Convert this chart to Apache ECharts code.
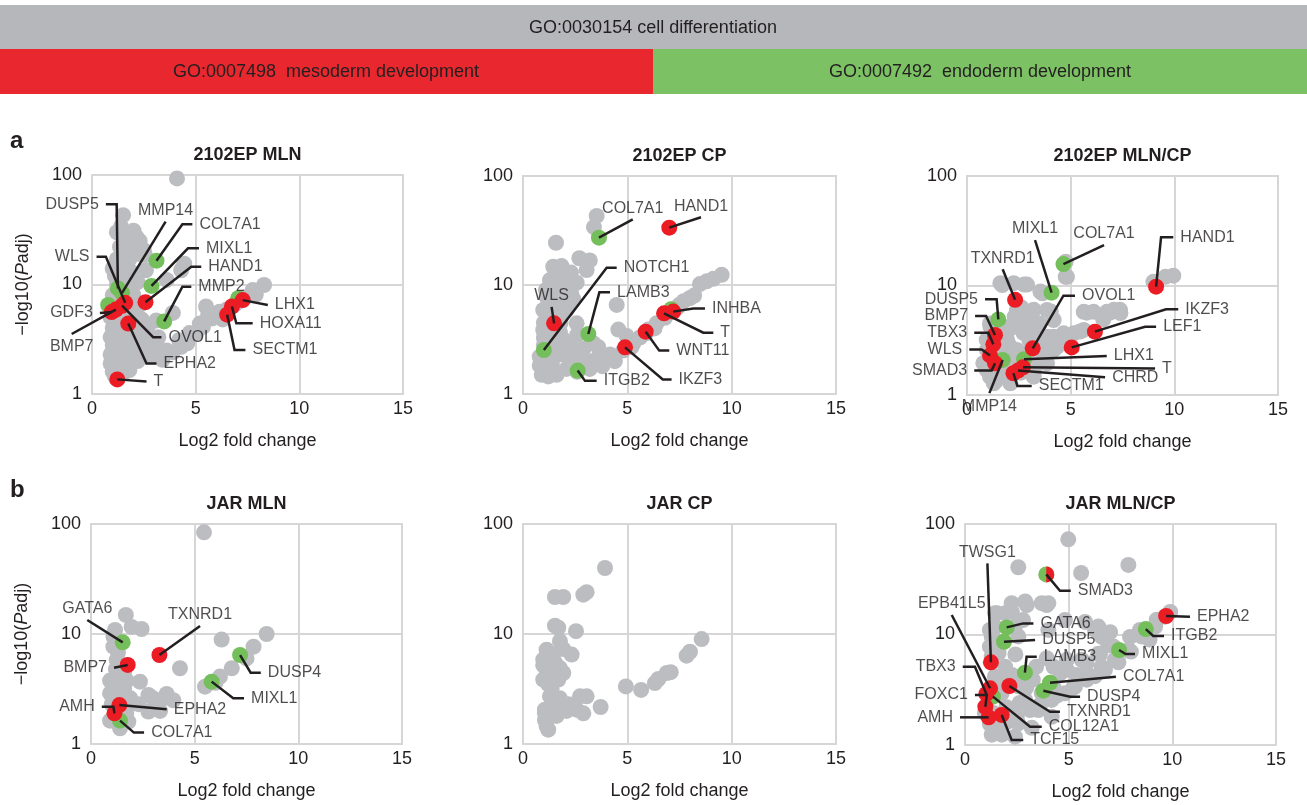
<!DOCTYPE html>
<html>
<head>
<meta charset="utf-8">
<script src="https://cdn.jsdelivr.net/npm/echarts@6/dist/echarts.min.js"></script>
<style>
html, body { margin: 0; padding: 0; background: #ffffff; }
#chart { width: 1307px; height: 805px; }
</style>
</head>
<body>
<div id="chart"></div>
<script>
// ---- Data: [log2 fold change, -log10(Padj)] ----
const gray2102MLN = [[4.1,93],[1.5,43],[1.2,30],[1.4,34],[2.0,31],[2.15,27],[2.3,25],[1.35,22],[2.0,21],[2.55,18.6],[2.3,19],[1.5,15.6],[1.8,17],[2.5,20.6],[2.6,13.5],[4.3,13.5],[4.45,15.5],[3.6,11],[1.1,12],[1.2,10],[2.2,10.5],[1.0,8],[1.8,11],[2.0,8],[2.3,6.5],[1.0,6.8],[0.9,5],[1.2,4.5],[1.5,5],[2.0,5.3],[1.0,4],[1.4,3.8],[0.9,3.3],[1.3,3.2],[1.7,3.5],[2.1,3.6],[1.0,2.8],[1.4,2.7],[1.8,2.8],[2.4,3],[0.9,2.3],[1.3,2.2],[1.7,2.3],[2.2,2.4],[0.9,1.9],[1.3,1.8],[1.7,1.9],[1.0,1.6],[1.5,1.55],[1.1,1.45],[2.8,2.9],[2.95,2.2],[3.4,2.05],[3.6,2.5],[4.3,2.7],[3.1,4.7],[3.9,5.5],[3.2,3.3],[4.7,3.6],[5.03,3.6],[5.35,4.1],[5.2,4.4],[5.5,6.3],[5.8,4.9],[6.15,5.65],[6.5,5.9],[6.9,6.6],[7.44,7.7],[7.75,8.9],[7.9,8.1],[8.3,9.9],[6.3,4.8],[4.2,3.1],[2.7,4.2],[1.1,5.5],[1.6,4.2],[1.9,4.5],[1.1,3.6],[1.5,3.0],[2.0,3.1],[1.2,2.5],[1.6,2.1],[2.0,2.0],[1.2,2.0],[1.4,1.6],[1.8,1.65],[2.5,2.6],[2.6,3.6],[1.3,12.5],[1.6,12],[1.7,26],[1.0,14],[1.9,13],[1.2,17],[1.7,21],[2.4,4.8],[1.3,7.5],[1.7,8.6],[2.2,2.0],[2.6,2.2],[3.1,2.6],[3.9,2.4],[4.6,2.9],[7.1,7.0],[5.6,5.2]];
const gray2102CP = [[3.53,43],[3.4,34],[1.58,24.4],[2.7,17.6],[3.2,16.8],[1.45,14.7],[1.85,14.9],[3.05,13.7],[1.29,11.1],[2.09,10.8],[2.57,10.5],[1.13,7.8],[1.93,7.6],[0.97,5.9],[2.09,5.9],[2.57,4.45],[0.97,3.87],[1.77,3.7],[2.25,2.92],[0.8,2.2],[1.29,2.0],[0.8,1.83],[1.13,1.58],[1.61,1.5],[2.09,1.7],[1.21,1.45],[3.37,2.92],[4.49,6.56],[4.57,3.9],[2.73,2.0],[3.53,2.1],[4.17,2.3],[5.28,2.9],[5.6,3.3],[6.4,4.45],[7.2,6.0],[7.7,7.1],[8.0,7.6],[8.48,10.2],[8.8,10.8],[9.12,11.4],[9.52,12.4],[2.41,1.95],[3.05,2.0],[4.97,3.4],[1.0,3.3],[1.3,3.0],[1.6,2.6],[1.0,2.8],[1.5,2.2],[1.9,2.3],[2.2,2.2],[1.2,4.8],[1.6,5.3],[1.8,4.5],[1.2,6.5],[1.6,6.8],[1.4,9],[1.7,9.5],[2.3,8.5],[2.1,12],[1.7,12.5],[6.0,3.9],[7.5,6.6],[1.0,4.5],[1.3,5.2],[1.8,6],[2.2,6.5],[2.4,7.5],[1.1,9],[1.9,10],[2.3,13],[1.4,3.5],[1.9,3.2],[2.6,3.5],[2.9,2.6],[1.1,2.3],[0.9,1.5],[1.4,1.8],[2.6,1.6],[3.2,1.7],[3.8,1.8],[4.4,2.0],[4.8,2.5],[5.2,2.7],[5.9,3.6],[6.3,4.0],[6.8,5.0],[7.4,6.2],[8.2,8.0],[2.5,2.5],[3.6,2.7],[0.9,2.0]];
const gray2102Ratio = [[9.95,12.3],[8.99,10.8],[9.57,12],[4.76,16.5],[4.76,12],[4.82,12],[1.61,10.5],[2.25,10.5],[2.89,10.2],[3.54,8.8],[1.7,10.1],[2.76,10.2],[3.64,8.5],[4.04,5.8],[3.16,5.9],[2.62,6.3],[2.3,5.2],[1.99,3.9],[2.72,3.7],[3.52,3.5],[2.41,5.97],[2.89,5.2],[3.22,6.0],[3.86,5.97],[4.18,4.84],[2.25,4.2],[3.22,3.93],[3.86,3.41],[1.93,3.18],[2.41,2.58],[3.7,2.58],[4.18,2.58],[3.86,1.95],[3.22,1.47],[1.77,2.24],[1.61,1.47],[1.29,1.28],[2.09,1.28],[1.13,4.2],[0.96,2.58],[4.18,3.41],[4.66,3.66],[5.15,3.66],[5.63,3.93],[5.63,5.75],[6.11,5.75],[6.75,5.75],[7.08,6.0],[7.4,5.6],[4.82,2.97],[4.34,2.76],[5.78,5.65],[6.9,5.65],[7.38,6.0],[6.57,4.9],[5.45,3.8],[4.65,3.55],[4.17,3.15],[4.0,2.58],[3.68,2.12],[3.36,1.9],[2.88,1.78],[1.11,1.47],[0.79,1.95],[0.95,1.7],[1.59,1.7],[1.91,1.95],[0.95,3.2],[1.59,3.0],[2.07,2.8],[1.11,4.5],[1.4,1.35],[2.1,1.45],[1.3,2.5],[1.8,2.4],[2.4,2.3],[3.0,2.5],[2.2,4.4],[2.6,1.6],[3.0,3.2],[1.5,3.6],[2.7,4.7],[3.5,4.5]];
const grayJARMLN = [[5.45,84],[1.68,14.9],[2.44,11.1],[1.16,10.9],[1.96,11.6],[6.3,8.9],[8.47,10],[7.84,7.67],[6.79,4.88],[6.22,4.1],[5.5,3.32],[4.29,4.88],[2.36,3.69],[1.08,7.67],[1.24,5.8],[0.92,3.77],[1.72,3.77],[0.92,2.89],[1.56,2.75],[2.04,2.34],[2.77,2.79],[3.65,2.85],[3.97,2.5],[3.33,2.45],[2.77,1.97],[3.33,2.0],[0.92,1.63],[1.8,1.6],[1.4,1.39],[1.4,4.2],[1.08,9.5],[1.2,4.8],[1.6,3.2],[1.1,3.3],[1.9,2.6],[1.0,2.3],[1.7,1.9],[7.5,6.0],[6.0,3.6],[1.3,6.8],[1.6,4.5],[1.2,2.6],[2.3,2.3],[3.0,2.6]];
const grayJARCP = [[3.93,39.8],[1.53,21.7],[1.93,21.7],[2.89,22.8],[3.05,24],[1.53,11.9],[1.69,11.4],[2.54,10.6],[1.77,8.6],[1.13,7.2],[1.93,7.3],[2.33,6.5],[0.97,5.84],[1.53,5.5],[1.93,4.42],[0.97,5.2],[1.13,4.18],[1.69,3.85],[1.29,2.71],[1.77,2.6],[1.05,2.05],[1.05,1.9],[1.13,1.45],[1.21,1.35],[1.61,2.05],[2.09,2.0],[2.17,2.3],[2.57,2.05],[2.89,1.9],[3.05,2.71],[2.73,2.71],[3.72,2.17],[4.93,3.34],[5.66,3.1],[6.32,3.58],[6.49,3.9],[6.89,4.42],[7.08,4.5],[7.84,6.35],[8.0,6.9],[8.56,9.0],[1.45,4.18],[0.97,3.85],[1.45,2.3],[1.61,1.8],[1.37,3.2],[1.45,6.5],[1.77,4.9],[1.2,3.5],[1.05,1.65]];
const grayJARRatio = [[4.98,72.6],[2.57,40.6],[5.6,36],[7.88,42.6],[2.98,18.5],[3.94,18.5],[1.45,15.6],[2.26,16],[2.8,13.5],[6.27,11],[1.2,11],[1.2,7.76],[1.45,9],[9.9,16],[9.25,13.6],[8.44,11.0],[7.96,9.5],[7.16,7.8],[6.51,6.6],[5.87,5.5],[4.91,4.8],[4.59,4.45],[4.27,3.3],[3.14,2.07],[2.5,1.8],[2.0,1.6],[1.54,1.5],[3.62,2.3],[4.43,2.8],[5.23,3.3],[5.87,3.9],[6.27,4.2],[6.75,4.8],[7.4,5.6],[1.62,6.8],[1.94,5.1],[2.43,6.6],[2.27,4.3],[1.78,3.8],[1.45,4.2],[2.95,3.3],[3.27,3.9],[3.43,5.1],[4.27,5.1],[3.94,6.1],[4.91,5.9],[1.37,1.95],[1.2,1.55],[2.0,2.2],[2.64,2.4],[8.0,7.0],[8.9,9.0],[5.4,4.3],[1.53,15.6],[1.45,11.8],[1.29,9.6],[1.29,6.3],[1.45,4.1],[1.77,2.94],[2.09,2.07],[2.57,1.57],[3.22,1.43],[2.41,1.19],[2.25,19.2],[1.93,15.6],[2.41,11.8],[2.57,9.6],[3.22,3.9],[3.7,2.94],[4.18,2.56],[4.82,2.94],[5.3,3.37],[5.95,4.15],[6.59,5.1],[7.23,5.9],[7.88,7.2],[8.52,9.6],[9.17,11.8],[9.65,14.5],[4.82,4.8],[5.63,5.9],[6.43,6.7],[6.91,8.0],[4.02,11],[4.82,13.5],[5.79,13],[6.43,11.8],[3.7,19.2],[2.9,19.9],[4.02,19.2],[6.6,9.5],[7.0,10.5],[0.96,1.94],[1.29,1.24],[1.77,1.24],[1.6,1.7],[2.9,2.56],[2.57,3.4],[3.54,2.07],[4.18,1.8]];

// Highlighted genes: [symbol, log2 fold change, -log10(Padj), GO group]
const genes2102MLN = [['COL7A1',3.11,16.5,'endo'],['MIXL1',2.87,9.7,'endo'],['MMP2',3.48,4.6,'endo'],['MMP14',1.45,8.4,'endo'],['DUSP5',1.25,9.2,'endo'],['',0.78,6.5,'endo'],['',7.05,7.5,'endo'],['HAND1',2.58,6.9,'meso'],['WLS',1.6,6.8,'meso'],['OVOL1',1.45,6.4,'meso'],['GDF3',0.95,5.6,'meso'],['BMP7',1.15,5.9,'meso'],['EPHA2',1.75,4.4,'meso'],['T',1.22,1.36,'meso'],['LHX1',7.27,7.2,'meso'],['HOXA11',6.75,6.3,'meso'],['SECTM1',6.52,5.3,'meso']];
const genes2102CP = [['COL7A1',3.64,27.2,'endo'],['NOTCH1',1.0,2.53,'endo'],['LAMB3',3.13,3.55,'endo'],['ITGB2',2.62,1.64,'endo'],['',7.1,6.0,'endo'],['HAND1',7.01,33.6,'meso'],['WLS',1.49,4.45,'meso'],['IKZF3',4.89,2.68,'meso'],['WNT11',5.88,3.73,'meso'],['T',6.76,5.5,'meso'],['INHBA',7.2,5.7,'meso']];
const genes2102Ratio = [['COL7A1',4.65,15.7,'endo'],['MIXL1',4.08,8.6,'endo'],['DUSP5',1.51,4.9,'endo'],['MMP14',1.72,2.09,'endo'],['LHX1',2.75,2.12,'endo'],['HAND1',9.12,9.75,'meso'],['TXNRD1',2.32,7.4,'meso'],['BMP7',1.35,3.53,'meso'],['TBX3',1.27,2.9,'meso'],['WLS',1.11,2.3,'meso'],['SMAD3',1.35,1.95,'meso'],['OVOL1',3.17,2.67,'meso'],['IKZF3',6.17,3.79,'meso'],['LEF1',5.05,2.72,'meso'],['T',2.7,1.79,'meso'],['CHRD',2.46,1.67,'meso'],['SECTM1',2.24,1.58,'meso']];
const genesJARMLN = [['GATA6',1.53,8.4,'endo'],['DUSP4',7.19,6.44,'endo'],['MIXL1',5.82,3.69,'endo'],['COL7A1',1.4,1.63,'endo'],['TXNRD1',3.3,6.44,'meso'],['BMP7',1.77,5.23,'meso'],['EPHA2',1.37,2.26,'meso'],['AMH',1.13,1.9,'meso']];
const genesJARCP = [];
const genesJARRatio = [['SMAD3',3.92,35,'both'],['ITGB2',8.72,11.2,'endo'],['MIXL1',7.43,7.24,'endo'],['GATA6',2.01,11.6,'endo'],['DUSP5',1.88,8.6,'endo'],['LAMB3',2.89,4.51,'endo'],['COL7A1',4.1,3.66,'endo'],['DUSP4',3.78,3.1,'endo'],['COL12A1',1.35,2.74,'endo'],['EPHA2',9.7,14.7,'meso'],['TWSG1',1.25,5.6,'meso'],['TXNRD1',2.14,3.42,'meso'],['EPB41L5',1.21,3.26,'meso'],['TBX3',1.03,2.9,'meso'],['FOXC1',0.98,2.22,'meso'],['AMH',1.14,1.78,'meso'],['TCF15',1.77,1.87,'meso']];

// ---- Callout layout: label anchor, optional elbows, text side ----
const callouts2102MLN = {
  DUSP5:{at:[0.67,54],via:[[1.19,54]],side:'left'}, MMP14:{at:[3.55,37.5],side:'top'},
  COL7A1:{at:[4.84,35.5],via:[[4.36,35.5]],side:'right'}, MIXL1:{at:[5.16,21.4],via:[[4.63,21.4]],side:'right'},
  HAND1:{at:[5.27,14.5],via:[[4.79,14.5]],side:'right'}, MMP2:{at:[4.79,9.55],via:[[4.36,9.55]],side:'right'},
  LHX1:{at:[8.48,6.5],side:'right'}, HOXA11:{at:[7.75,4.42],via:[[6.96,4.42]],side:'right'},
  SECTM1:{at:[7.4,2.52],via:[[6.875,2.52]],side:'right'}, WLS:{at:[0.22,17.9],via:[[0.67,17.9]],side:'left'},
  GDF3:{at:[0.38,5.5],side:'left'}, BMP7:{at:[-0.98,3.53],side:'bottom'},
  OVOL1:{at:[3.35,3.3],via:[[2.95,3.3]],side:'right'}, EPHA2:{at:[3.11,1.9],via:[[2.63,1.9]],side:'right'},
  T:{at:[2.63,1.3],side:'right'}
};
const callouts2102CP = {
  HAND1:{at:[8.53,41.8],side:'top'}, COL7A1:{at:[5.26,40],side:'top'},
  NOTCH1:{at:[4.49,14.4],via:[[4.01,14.4]],side:'right'}, LAMB3:{at:[4.17,8.57],via:[[3.66,8.57]],side:'right'},
  WLS:{at:[1.37,6.3],side:'top'}, INHBA:{at:[8.72,6.1],via:[[8.16,6.1]],side:'right'},
  T:{at:[9.12,3.65],via:[[8.64,3.65]],side:'right'}, WNT11:{at:[7.01,2.5],via:[[6.53,2.5]],side:'right'},
  IKZF3:{at:[7.12,1.36],via:[[6.7,1.36]],side:'right'}, ITGB2:{at:[3.53,1.32],via:[[2.97,1.32]],side:'right'}
};
const callouts2102Ratio = {
  HAND1:{at:[9.95,27.6],via:[[9.36,27.6]],side:'right'}, COL7A1:{at:[6.61,23.4],side:'top'},
  MIXL1:{at:[3.28,26],side:'top'}, TXNRD1:{at:[1.72,14.1],side:'top'},
  DUSP5:{at:[0.87,7.5],via:[[1.43,7.5]],side:'left'}, BMP7:{at:[0.39,5.27],via:[[0.92,5.27]],side:'left'},
  TBX3:{at:[0.35,3.7],via:[[1.03,3.7]],side:'left'}, WLS:{at:[0.11,2.61],via:[[0.71,2.61]],side:'left'},
  SMAD3:{at:[0.35,1.67],via:[[1.19,1.67]],side:'left'}, MMP14:{at:[1.08,1.04],side:'bottom'},
  OVOL1:{at:[5.21,8.07],via:[[4.65,8.07]],side:'right'}, IKZF3:{at:[10.19,6.06],via:[[9.6,6.06]],side:'right'},
  LEF1:{at:[9.12,4.2],via:[[8.59,4.2]],side:'right'}, LHX1:{at:[6.74,2.27],side:'right'},
  T:{at:[9.07,1.75],side:'right'}, CHRD:{at:[6.66,1.45],side:'right'},
  SECTM1:{at:[3.12,1.21],via:[[2.43,1.21]],side:'right'}
};
const calloutsJARMLN = {
  GATA6:{at:[-0.18,13.4],side:'top'}, TXNRD1:{at:[5.26,11.8],side:'top'},
  BMP7:{at:[1.11,4.94],side:'left'}, DUSP4:{at:[8.19,4.45],via:[[7.7,4.45]],side:'right'},
  MIXL1:{at:[7.38,2.6],via:[[6.86,2.6]],side:'right'}, EPHA2:{at:[3.65,2.07],side:'right'},
  AMH:{at:[0.52,2.18],via:[[1.08,2.18]],side:'left'}, COL7A1:{at:[2.56,1.27],via:[[2.07,1.27]],side:'right'}
};
const calloutsJARCP = {};
const calloutsJARRatio = {
  TWSG1:{at:[1.08,44],side:'top'}, SMAD3:{at:[5.1,24.9],via:[[4.58,24.9]],side:'right'},
  EPB41L5:{at:[-0.64,15],side:'top'}, EPHA2:{at:[10.85,14.5],side:'right'},
  ITGB2:{at:[9.6,9.7],via:[[9.08,9.7]],side:'right'}, MIXL1:{at:[8.2,6.66],via:[[7.75,6.66]],side:'right'},
  GATA6:{at:[3.3,12.6],via:[[2.81,12.6]],side:'right'}, DUSP5:{at:[3.38,8.9],side:'right'},
  LAMB3:{at:[3.46,6.3],via:[[2.97,6.3]],side:'right'}, COL7A1:{at:[7.28,4.15],side:'right'},
  DUSP4:{at:[5.55,2.74],via:[[5.07,2.74]],side:'right'}, TXNRD1:{at:[4.58,2.0],via:[[4.1,2.0]],side:'right'},
  COL12A1:{at:[3.7,1.46],via:[[3.14,1.46]],side:'right'}, TCF15:{at:[2.81,1.11],via:[[2.25,1.11]],side:'right'},
  TBX3:{at:[-0.11,5.1],via:[[0.48,5.1]],side:'left'}, FOXC1:{at:[0.48,2.83],via:[[1.05,2.83]],side:'left'},
  AMH:{at:[-0.24,1.78],side:'left'}
};

const xTicks = [0, 5, 10, 15];
const yTicks = [1, 10, 100];

const FONT = '"Liberation Sans", Arial, Helvetica, sans-serif';
const INK = '#231f20';
const GRID_LINE = '#d6d6d7';
const GRAY = '#bcbdc0', RED = '#ec1c24', GREEN = '#74bf5b';
const DOT = 16;

const panels = [
  { title: '2102EP MLN',    gray: gray2102MLN,   genes: genes2102MLN,   callouts: callouts2102MLN,   box: {left: 92,  top: 175, width: 311, height: 219}, yName: true },
  { title: '2102EP CP',     gray: gray2102CP,    genes: genes2102CP,    callouts: callouts2102CP,    box: {left: 523, top: 176, width: 313, height: 218} },
  { title: '2102EP MLN/CP', gray: gray2102Ratio, genes: genes2102Ratio, callouts: callouts2102Ratio, box: {left: 967, top: 176, width: 311, height: 219} },
  { title: 'JAR MLN',       gray: grayJARMLN,    genes: genesJARMLN,    callouts: calloutsJARMLN,    box: {left: 91,  top: 524, width: 311, height: 220}, yName: true },
  { title: 'JAR CP',        gray: grayJARCP,     genes: genesJARCP,     callouts: calloutsJARCP,     box: {left: 523, top: 524, width: 313, height: 220} },
  { title: 'JAR MLN/CP',    gray: grayJARRatio,  genes: genesJARRatio,  callouts: calloutsJARRatio,  box: {left: 965, top: 524, width: 311, height: 221} }
];

const grids = [], xAxes = [], yAxes = [], series = [], graphics = [];

// GO term header bands
graphics.push(
  {type: 'rect', shape: {x: 0, y: 5, width: 1307, height: 44}, style: {fill: '#b6b7ba'}},
  {type: 'rect', shape: {x: 0, y: 49, width: 653, height: 45}, style: {fill: '#e8282e'}},
  {type: 'rect', shape: {x: 653, y: 49, width: 654, height: 45}, style: {fill: '#7cc163'}},
  {type: 'text', x: 653, y: 28, style: {text: 'GO:0030154 cell differentiation', fill: INK, font: '18px ' + FONT, textAlign: 'center', textVerticalAlign: 'middle'}},
  {type: 'text', x: 326, y: 72, style: {text: 'GO:0007498  mesoderm development', fill: INK, font: '18px ' + FONT, textAlign: 'center', textVerticalAlign: 'middle'}},
  {type: 'text', x: 980, y: 72, style: {text: 'GO:0007492  endoderm development', fill: INK, font: '18px ' + FONT, textAlign: 'center', textVerticalAlign: 'middle'}},
  {type: 'text', x: 10, y: 141, style: {text: 'a', fill: INK, font: 'bold 24px ' + FONT, textVerticalAlign: 'middle'}},
  {type: 'text', x: 10, y: 490, style: {text: 'b', fill: INK, font: 'bold 24px ' + FONT, textVerticalAlign: 'middle'}}
);

const sideDistance = {left: 7, right: 7, top: 3, bottom: 5};

panels.forEach((p, i) => {
  const b = p.box;
  grids.push({left: b.left, top: b.top, width: b.width, height: b.height, show: true, borderColor: GRID_LINE, borderWidth: 2, backgroundColor: 'transparent'});
  graphics.push({type: 'text', x: b.left + b.width / 2, y: b.top - 20,
    style: {text: p.title, fill: INK, font: 'bold 18px ' + FONT, textAlign: 'center', textVerticalAlign: 'middle'}});

  xAxes.push({
    gridIndex: i, type: 'value', min: xTicks[0], max: xTicks[xTicks.length - 1], interval: xTicks[1] - xTicks[0],
    axisLine: {show: true, lineStyle: {color: GRID_LINE, width: 2}}, axisTick: {show: false},
    splitLine: {show: true, lineStyle: {color: GRID_LINE, width: 2}},
    axisLabel: {color: INK, fontSize: 18, fontFamily: FONT, margin: 6},
    name: 'Log2 fold change', nameLocation: 'middle', nameGap: 38,
    nameTextStyle: {color: INK, fontSize: 18, fontFamily: FONT}
  });
  const ya = {
    gridIndex: i, type: 'log', logBase: 10, min: yTicks[0], max: yTicks[yTicks.length - 1],
    axisLine: {show: true, lineStyle: {color: GRID_LINE, width: 2}}, axisTick: {show: false},
    splitLine: {show: true, lineStyle: {color: GRID_LINE, width: 2}},
    axisLabel: {color: INK, fontSize: 18, fontFamily: FONT, margin: 10}
  };
  if (p.yName) {
    ya.name = '{n|\u2212log10(}{i|P}{n|adj)}';
    ya.nameLocation = 'middle';
    ya.nameGap = 60;
    ya.nameTextStyle = {rich: {
      n: {color: INK, fontSize: 18, fontFamily: FONT},
      i: {color: INK, fontSize: 18, fontFamily: FONT, fontStyle: 'italic'}
    }};
  }
  yAxes.push(ya);

  const common = {xAxisIndex: i, yAxisIndex: i, animation: false, silent: true};
  series.push(Object.assign({type: 'scatter', symbolSize: DOT, z: 2, itemStyle: {color: GRAY, opacity: 1},
    data: p.gray}, common));
  series.push(Object.assign({type: 'scatter', symbolSize: DOT, z: 3, itemStyle: {color: GREEN, opacity: 1},
    data: p.genes.filter(g => g[3] === 'endo' || g[3] === 'both').map(g => [g[1], g[2]])}, common));
  series.push(Object.assign({type: 'scatter', symbolSize: DOT, z: 4, itemStyle: {color: RED, opacity: 1},
    data: p.genes.filter(g => g[3] === 'meso').map(g => [g[1], g[2]])}, common));
  // genes in both groups: right half drawn in red over the green disc
  series.push(Object.assign({type: 'scatter', z: 5, symbol: 'path://M0,0 A10,10 0 0 1 0,20 Z',
    symbolSize: [DOT / 2, DOT], symbolOffset: [DOT / 4, 0], symbolKeepAspect: false, itemStyle: {color: RED, opacity: 1},
    data: p.genes.filter(g => g[3] === 'both').map(g => [g[1], g[2]])}, common));

  const labelled = p.genes.filter(g => g[0] && p.callouts[g[0]]);
  series.push(Object.assign({type: 'lines', coordinateSystem: 'cartesian2d', polyline: true, clip: false, z: 6,
    lineStyle: {color: INK, width: 2.5, opacity: 1, cap: 'butt', join: 'miter'},
    data: labelled.map(g => {
      const c = p.callouts[g[0]];
      return {coords: [[g[1], g[2]]].concat(c.via || [], [c.at])};
    })}, common));
  series.push(Object.assign({type: 'scatter', z: 7, clip: false, symbolSize: 0.1, itemStyle: {color: 'transparent'},
    label: {show: true, formatter: '{b}', color: INK, fontSize: 16, fontFamily: FONT},
    data: labelled.map(g => {
      const c = p.callouts[g[0]];
      return {name: g[0], value: c.at, label: {position: c.side, distance: sideDistance[c.side]}};
    })}, common));
});

const chart = echarts.init(document.getElementById('chart'), null, {renderer: 'canvas'});
chart.setOption({
  animation: false,
  backgroundColor: '#ffffff',
  grid: grids,
  xAxis: xAxes,
  yAxis: yAxes,
  series: series,
  graphic: graphics
});
</script>
</body>
</html>
